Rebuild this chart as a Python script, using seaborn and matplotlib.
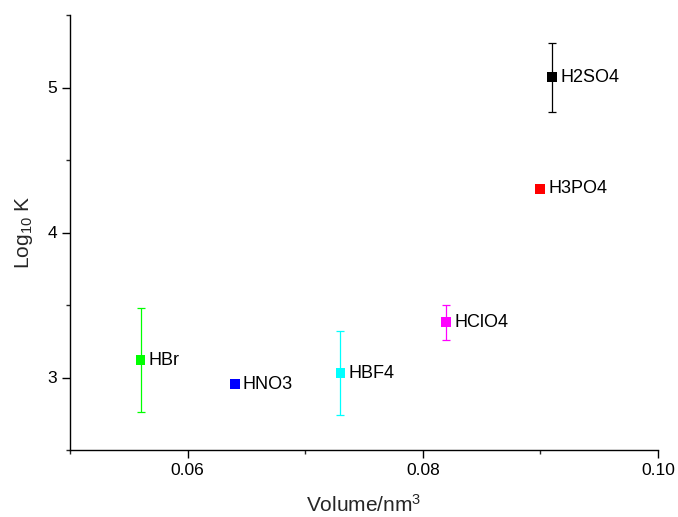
import matplotlib
matplotlib.use("Agg")
import matplotlib.pyplot as plt
from matplotlib.ticker import MultipleLocator, FixedLocator
import seaborn as sns
import pandas as pd

# Acid molecular volume vs. log10 of the binding constant
acids = ["HBr", "HNO3", "HBF4", "HClO4", "H3PO4", "H2SO4"]
volume = [0.056, 0.064, 0.073, 0.082, 0.090, 0.091]
log_k = [3.12, 2.955, 3.03, 3.38, 4.30, 5.07]
log_k_err = [0.36, 0.02, 0.29, 0.12, 0.0, 0.24]
colors = ["#00ff00", "#0000ff", "#00ffff", "#ff00ff", "#ff0000", "#000000"]

x_ticks = [0.06, 0.08, 0.10]
x_tick_labels = ["0.06", "0.08", "0.10"]
y_ticks = [3, 4, 5]

df = pd.DataFrame({"acid": acids, "volume": volume, "logk": log_k, "err": log_k_err})
palette = dict(zip(acids, colors))

sns.set_style("ticks")
plt.rcParams["font.family"] = ["Liberation Sans", "DejaVu Sans"]
plt.rcParams["mathtext.default"] = "regular"

fig = plt.figure(figsize=(6.78, 5.17), dpi=100)
ax = fig.add_axes([70 / 678, 1 - 450 / 517, 588 / 678, 435 / 517])

# error bars first so the markers sit on top
for _, row in df.iterrows():
    if row["err"] > 0:
        ax.errorbar(row["volume"], row["logk"], yerr=row["err"], fmt="none",
                    ecolor=palette[row["acid"]], elinewidth=0.9, capsize=3.2,
                    capthick=0.9, zorder=2)

sns.scatterplot(data=df, x="volume", y="logk", hue="acid", palette=palette,
                marker="s", s=50, linewidth=0, legend=False, ax=ax, zorder=3)

for _, row in df.iterrows():
    ax.annotate(row["acid"], (row["volume"], row["logk"]), xytext=(6, 0),
                textcoords="offset points", va="center", ha="left",
                fontsize=13, color="black")

ax.set_xlim(0.05, 0.10)
ax.set_ylim(2.5, 5.5)
ax.xaxis.set_major_locator(FixedLocator(x_ticks))
ax.set_xticklabels(x_tick_labels)
ax.xaxis.set_minor_locator(MultipleLocator(0.01))
ax.yaxis.set_major_locator(FixedLocator(y_ticks))
ax.yaxis.set_minor_locator(MultipleLocator(0.5))

ax.tick_params(which="major", direction="out", length=6, width=1.0,
               labelsize=12.5, colors="black")
ax.tick_params(which="minor", direction="out", length=3, width=1.0)

for side in ("left", "bottom"):
    ax.spines[side].set_linewidth(1.0)
    ax.spines[side].set_color("black")
sns.despine(ax=ax)

ax.set_xlabel("Volume/nm$^{3}$", fontsize=15, labelpad=11)
ax.set_ylabel("Log$_{10}$ K", fontsize=15, labelpad=9)

fig.savefig("out.png", dpi=100)
